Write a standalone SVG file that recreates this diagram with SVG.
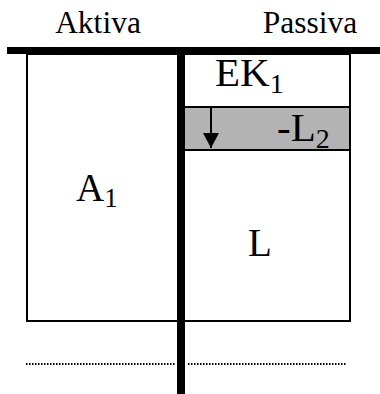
<svg xmlns="http://www.w3.org/2000/svg" width="380" height="394" viewBox="0 0 380 394">
  <style>
    .t { font-family: "Liberation Serif", "Times New Roman", serif; fill: #000; }
    .box { fill: none; stroke: #000; stroke-width: 2; }
    .bar { fill: #000; }
    .dot { stroke: #000; stroke-width: 2; stroke-dasharray: 1.5 1.5; fill: none; }
  </style>
  <defs>
    <marker id="arrowhead" viewBox="0 0 15 16" refX="15" refY="8" markerWidth="15" markerHeight="16" markerUnits="userSpaceOnUse" orient="auto">
      <path d="M0,0 L15,8 L0,16 Z" fill="#000"/>
    </marker>
  </defs>

  <rect width="380" height="394" fill="#fff"/>

  <!-- column headings -->
  <g id="heading-aktiva">
    <text class="t" x="98" y="33" font-size="31.5" text-anchor="middle">Aktiva</text>
  </g>
  <g id="heading-passiva">
    <text class="t" x="310" y="33" font-size="31.5" text-anchor="middle">Passiva</text>
  </g>

  <!-- asset side -->
  <g id="asset-A1">
    <rect class="box" x="27" y="54" width="151" height="267"/>
    <text class="t" x="76" y="201" font-size="39">A<tspan font-size="27" dy="6">1</tspan></text>
  </g>

  <!-- liabilities side -->
  <g id="equity-EK1">
    <rect class="box" x="184" y="54" width="166" height="53"/>
    <text class="t" x="215" y="86" font-size="41">EK<tspan font-size="28" dy="7">1</tspan></text>
  </g>
  <g id="reduction-L2">
    <rect x="184" y="107" width="166" height="43" fill="#b3b3b3" stroke="#000" stroke-width="2"/>
    <text class="t" x="277" y="141" font-size="41">-L<tspan font-size="28" dy="7">2</tspan></text>
  </g>
  <g id="liability-L">
    <rect class="box" x="184" y="150" width="166" height="171"/>
    <text class="t" x="248" y="256" font-size="39">L</text>
  </g>

  <!-- connectors: arrow, T-account axes, dotted line -->
  <g id="connectors">
    <line x1="211" y1="108" x2="211" y2="148" stroke="#000" stroke-width="2" marker-end="url(#arrowhead)"/>
    <rect class="bar" x="7" y="47" width="373" height="7"/>
    <rect class="bar" x="177" y="47" width="8" height="347"/>
    <line class="dot" x1="26" y1="364" x2="175" y2="364"/>
    <line class="dot" x1="188" y1="364" x2="347" y2="364"/>
  </g>
</svg>
